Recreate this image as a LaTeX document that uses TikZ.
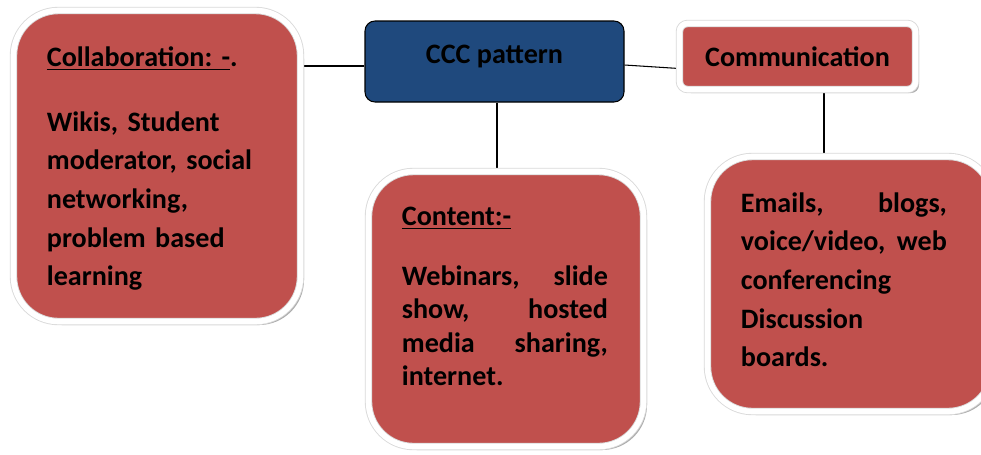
\documentclass[tikz,border=0pt]{standalone}
\usepackage{fontspec}
\setmainfont{Carlito}
\usepackage{xcolor}
\usetikzlibrary{positioning,shadows,backgrounds}
\definecolor{boxred}{HTML}{C0504D}
\definecolor{boxblue}{HTML}{1F497D}
\tikzset{%
  % Specifications for style of nodes:
        base/.style = {rectangle, draw=gray!30, line width=0.5pt,
                       double=white, double distance=3.2pt, fill=boxred,
                       drop shadow={shadow xshift=2pt, shadow yshift=-2pt,
                                    fill=gray!80, opacity=0.8}},
     bigbox/.style = {base, rounded corners=0.9cm},
    headbox/.style = {base, rounded corners=0.16cm,
                      font=\fontsize{16}{22}\selectfont\bfseries},
    mainbox/.style = {rectangle, rounded corners=0.2cm, draw=black,
                      line width=0.6pt, fill=boxblue,
                      font=\fontsize{16}{22}\selectfont\bfseries},
    boxtext/.style = {inner sep=0pt, text width=4.12cm, align=left,
                      font=\fontsize{16}{22}\selectfont\bfseries},
  connector/.style = {draw=black, line width=0.6pt},
}
\begin{document}
\begin{tikzpicture}
  \useasboundingbox (0,0) rectangle (19.62,-9.08);
  % Specification of nodes (position, etc.)
  \node (ccc)     [mainbox, minimum width=5.18cm, minimum height=1.62cm,
                   text depth=0.3cm]
                  at (9.89,-1.23) {CCC pattern};
  \node (comm)    [headbox, minimum width=4.72cm, minimum height=1.32cm]
                  at (15.95,-1.13) {Communication};
  \node (collab)  [bigbox, minimum width=5.74cm, minimum height=6.22cm]
                  at (3.14,-3.32) {};
  \node (content) [bigbox, minimum width=5.5cm, minimum height=5.5cm]
                  at (10.12,-6.18) {};
  \node (emails)  [bigbox, minimum width=5.71cm, minimum height=5.1cm]
                  at (17.005,-5.68) {};
  % texts inside the big boxes
  \node (collabtxt)  [boxtext, anchor=north west,
                      below right=0.72cm and 0.67cm of collab.north west]
    {\underline{Collaboration:\ -}.\\[15pt]
     Wikis, Student\\ moderator, social\\ networking,\\ problem based\\ learning};
  \node (contenttxt) [boxtext, anchor=north west,
                      below right=0.72cm and 0.67cm of content.north west,
                      font=\fontsize{16}{19}\selectfont\bfseries]
    {\underline{Content:-}\\[15pt]
     Webinars,\hfill slide\\ show,\hfill hosted\\ media\hfill sharing,\\ internet.};
  \node (emailstxt)  [boxtext, anchor=north west,
                      below right=0.72cm and 0.67cm of emails.north west]
    {Emails,\hfill blogs,\\ voice/video,\hfill web\\ conferencing\\ Discussion\\ boards.};
  % Specification of lines between nodes specified above
  \begin{pgfonlayer}{background}
    \draw[connector] ([yshift=-0.09cm]ccc.west) -- ([yshift=-0.09cm]ccc.west -| collab.east);
    \draw[connector] ([yshift=-0.07cm]ccc.east) -- ([yshift=-0.24cm]comm.west);
    \draw[connector] ([xshift=0.05cm]ccc.south) -- ([xshift=0.05cm]ccc.south |- content.north);
    \draw[connector] ([xshift=0.53cm]comm.south) -- ([xshift=0.53cm]comm.south |- emails.north);
  \end{pgfonlayer}
\end{tikzpicture}
\end{document}
